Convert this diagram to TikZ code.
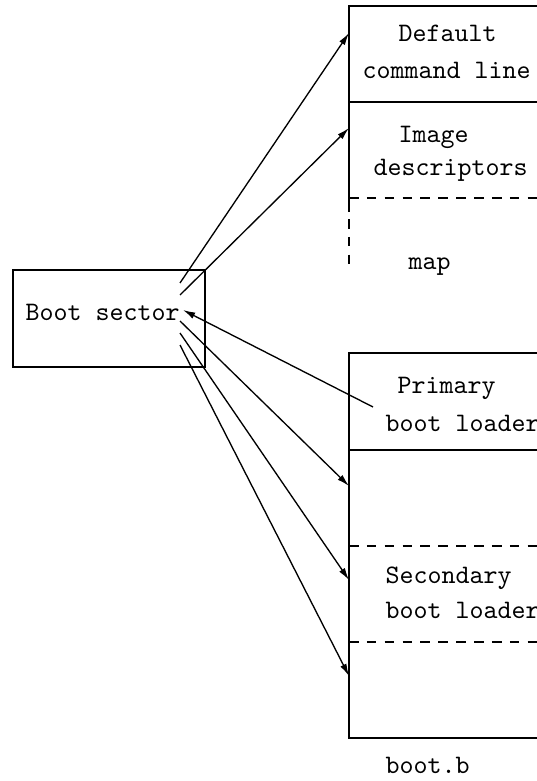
\documentclass[tikz,border=0pt]{standalone}
\usepackage{tikz}
\usetikzlibrary{arrows.meta}

\begin{document}
\begin{tikzpicture}[x=0.375pt, y=-0.375pt,
        lbl/.style={anchor=base west, inner sep=0pt, font=\ttfamily},
        wall/.style={line width=0.95pt},
        cut/.style={line width=0.95pt, dash pattern=on 3.6pt off 3.1pt},
        ptr/.style={-{Latex[length=4.6pt,width=2.5pt]}, line width=0.5pt}]
        \def\xl{349}
        \def\xr{545}

        \useasboundingbox (0,0) rectangle (537,781);

        % Boot sector
        \draw[wall] (13,270) rectangle (205,367);
        \node[lbl] (bs) at (25,320) {Boot sector};

        % map file
        \draw[wall] (\xr,6) -- (\xl,6) -- (\xl,212);
        \draw[wall] (\xl,102) -- (\xr,102);
        \draw[cut] (\xl,198) -- (\xr,198);
        \draw[cut] (\xl,219) -- (\xl,272);
        \node[lbl] (dflt) at (398,42) {Default};
        \node[lbl] (cmd) at (362,79) {command line};
        \node[lbl] (img) at (398,142) {Image};
        \node[lbl] (desc) at (373,175) {descriptors};
        \node[lbl] (map) at (408,269) {map};

        % boot.b
        \draw[wall] (\xr,353) -- (\xl,353) -- (\xl,738) -- (\xr,738);
        \draw[wall] (\xl,450) -- (\xr,450);
        \draw[cut] (\xl,546) -- (\xr,546);
        \draw[cut] (\xl,642) -- (\xr,642);
        \node[lbl] (prim) at (397,393) {Primary};
        \node[lbl] (pbl) at (385,431) {boot loader};
        \node[lbl] (sec) at (385,583) {Secondary};
        \node[lbl] (sbl) at (385,618) {boot loader};
        \node[lbl] (bootb) at (385,773) {boot.b};

        % Pointers
        \coordinate (s1) at (180,283);
        \coordinate (s2) at (180,295);
        \coordinate (s3) at (180,321);
        \coordinate (s4) at (180,333);
        \coordinate (s5) at (180,345);
        \coordinate (back) at (183,310);
        \coordinate (pfrom) at (373,407);
        \coordinate (t1) at (\xl,33);
        \coordinate (t2) at (\xl,128);
        \coordinate (t3) at (\xl,486);
        \coordinate (t4) at (\xl,580);
        \coordinate (t5) at (\xl,676);

        \draw[ptr] (s1) -- (t1);
        \draw[ptr] (s2) -- (t2);
        \draw[ptr] (pfrom) -- (back);
        \draw[ptr] (s3) -- (t3);
        \draw[ptr] (s4) -- (t4);
        \draw[ptr] (s5) -- (t5);
    \end{tikzpicture}
\end{document}
